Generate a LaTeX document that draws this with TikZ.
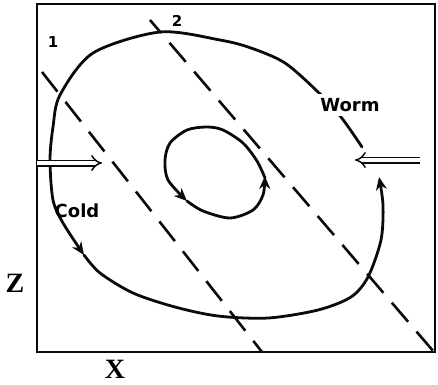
\documentclass[tikz,border=0pt]{standalone}
\usepackage{fontspec}
\usepackage{tikz}
\usetikzlibrary{arrows.meta}
\newfontfamily\lblfont{DejaVu Sans}
\newfontfamily\axfont{Liberation Serif}
\definecolor{mydark}{RGB}{10,10,10}
\tikzset{
  flow/.style={line width=2.8pt, color=mydark, line cap=round,
    -{Stealth[length=13pt, width=11pt]}},
  front/.style={line width=2.6pt, color=mydark, dash pattern=on 25pt off 13pt},
  push/.style={double=white, double distance=4pt, line width=1.5pt, color=mydark,
    -{Implies}},
  lbl/.style={font=\lblfont\bfseries\fontsize{18}{18}\selectfont, inner sep=1pt},
  numlbl/.style={font=\lblfont\bfseries\fontsize{15}{15}\selectfont, inner sep=1pt},
  axlbl/.style={font=\axfont\bfseries\fontsize{28}{28}\selectfont, inner sep=0pt}
}
\begin{document}
\begin{tikzpicture}[x=1pt, y=-1pt]
  \useasboundingbox (0,0) rectangle (438,384);

  % Frame
  \draw[line width=2pt, color=mydark] (37,4) rectangle (435,352);
  \node[axlbl] (zlab) at (15,283) {Z};
  \node[axlbl] (xlab) at (115,369) {X};

  % Fronts
  \draw[front] (42,72) -- (262,352);
  \draw[front, dash phase=8pt] (150,20) -- (434,352);
  \node[numlbl] (one) at (53,42) {1};
  \node[numlbl] (two) at (177,21) {2};

  % Outer cell
  \draw[flow] plot[smooth] coordinates {(362,147) (341,117) (318,92) (285,63) (251,48)
    (220,40) (160,32) (93,53) (60,95) (53,127) (50,160) (53,200) (63,223) (84,255)};
  \draw[flow] plot[smooth] coordinates {(84,255) (100,273) (133,293) (175,307) (218,316)
    (268,318) (318,310) (351,297) (368,277) (381,240) (383,205) (379,177)};
  \node[lbl, fill=white, inner sep=4pt] (warm) at (350,105) {Worm};
  \node[lbl] (cold) at (77,211) {Cold};

  % Inner cell
  \draw[flow] plot[smooth] coordinates {(265,178) (257,161) (243,143) (223,130) (207,127)
    (187,130) (170,143) (165,160) (168,180) (187,201)};
  \draw[flow] plot[smooth] coordinates {(187,201) (203,211) (230,218) (253,210)
    (263,195) (265,176)};

  % Inflow
  \coordinate (lin) at (37,163);
  \coordinate (lout) at (102,163);
  \coordinate (rin) at (420,160);
  \coordinate (rout) at (355,160);
  \draw[push] (lin) -- (lout);
  \draw[push] (rin) -- (rout);
\end{tikzpicture}
\end{document}
